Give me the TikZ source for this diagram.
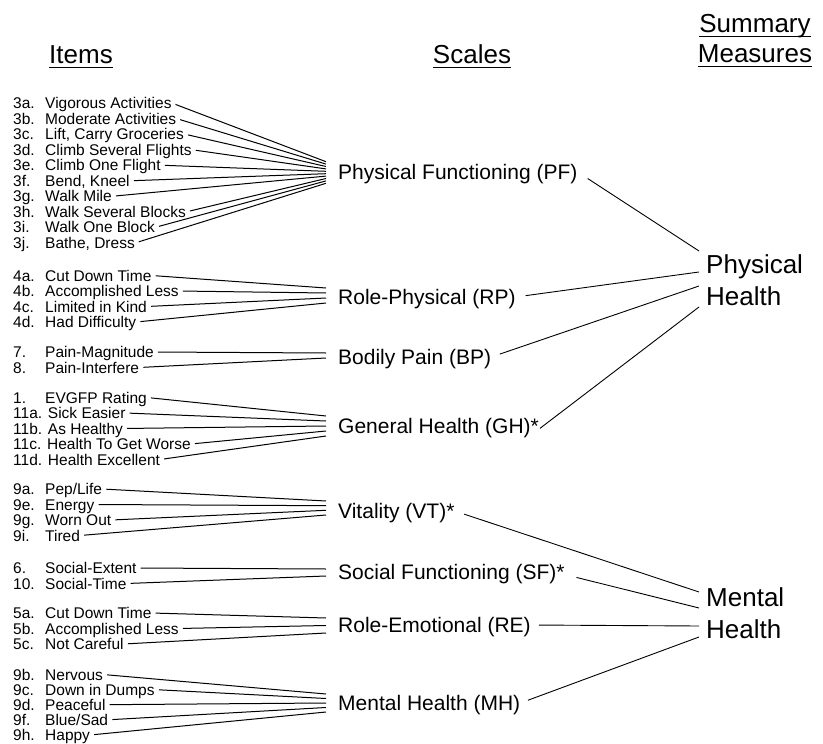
\documentclass[tikz,border=0pt]{standalone}
\usepackage{fontspec}
\setmainfont{Liberation Sans}
\usetikzlibrary{calc}

\tikzset{
  itemtxt/.style={font=\fontsize{15.5}{15.5}\selectfont, inner sep=0pt,
    anchor=base west, text height=11pt, text depth=0pt},
  scaletxt/.style={font=\fontsize{21}{21}\selectfont, inner sep=0pt,
    anchor=base west, text height=15pt, text depth=0pt},
  sumtxt/.style={font=\fontsize{26}{26}\selectfont, inner sep=0pt, anchor=base west},
  headtxt/.style={font=\fontsize{26}{26}\selectfont, inner sep=0pt, anchor=base},
  itemlink/.style={line width=1pt, shorten <=4pt},
  scalelink/.style={line width=0.9pt},
  uline/.style={line width=1.2pt}
}

% one questionnaire item: name, cap-centre y, number, wording, fan y
\newcommand\itm[5]{%
  \node[itemtxt] (#1n) at (13,#2+5.5) {#3};
  \node[itemtxt] (#1) at (45,#2+5.5) {#4};
  \coordinate (#1f) at (326,#5);
  \draw[itemlink] (#1.east) -- (#1f);
}
% item whose number and wording are set as one string
\newcommand\itmw[4]{%
  \node[itemtxt] (#1) at (13,#2+5.5) {#3};
  \coordinate (#1f) at (326,#4);
  \draw[itemlink] (#1.east) -- (#1f);
}
% underlined column heading: name, x, baseline y, text
\newcommand\heading[4]{%
  \node[headtxt] (#1) at (#2,#3) {#4};
  \draw[uline] ($(#1.base west)+(0,4.5)$) -- ($(#1.base east)+(0,4.5)$);
}

\begin{document}
\begin{tikzpicture}[x=1pt,y=-1pt]
\useasboundingbox (0,0) rectangle (823,744);

% column headings
\heading{hitems}{81}{63}{Items}
\heading{hscales}{472}{63}{Scales}
\heading{hsum1}{755}{32}{Summary}
\heading{hsum2}{755}{62}{Measures}

% Physical Functioning items
\itm{i3a}{103}{3a.}{Vigorous Activities}{161.7}
\itm{i3b}{118.5}{3b.}{Moderate Activities}{164.1}
\itm{i3c}{134}{3c.}{Lift, Carry Groceries}{166.5}
\itm{i3d}{149.7}{3d.}{Climb Several Flights}{168.9}
\itm{i3e}{165.2}{3e.}{Climb One Flight}{171.3}
\itm{i3f}{180.8}{3f.}{Bend, Kneel}{173.7}
\itm{i3g}{196.3}{3g.}{Walk Mile}{176.1}
\itm{i3h}{211.9}{3h.}{Walk Several Blocks}{178.5}
\itm{i3i}{227.4}{3i.}{Walk One Block}{180.9}
\itm{i3j}{243}{3j.}{Bathe, Dress}{183.3}

% Role-Physical items
\itm{i4a}{275.5}{4a.}{Cut Down Time}{288}
\itm{i4b}{291}{4b.}{Accomplished Less}{293}
\itm{i4c}{306.5}{4c.}{Limited in Kind}{298}
\itm{i4d}{322}{4d.}{Had Difficulty}{303}

% Bodily Pain items
\itm{i7}{352}{7.}{Pain-Magnitude}{353}
\itm{i8}{367.5}{8.}{Pain-Interfere}{358}

% General Health items
\itm{i1}{397.5}{1.}{EVGFP Rating}{416}
\itmw{i11a}{413}{11a. Sick Easier}{421}
\itmw{i11b}{428.5}{11b. As Healthy}{426}
\itmw{i11c}{444}{11c. Health To Get Worse}{431}
\itmw{i11d}{459.5}{11d. Health Excellent}{436}

% Vitality items
\itm{i9a}{489}{9a.}{Pep/Life}{501}
\itm{i9e}{504.5}{9e.}{Energy}{505.7}
\itm{i9g}{520}{9g.}{Worn Out}{510.3}
\itm{i9i}{535.5}{9i.}{Tired}{515}

% Social Functioning items
\itm{i6}{568}{6.}{Social-Extent}{569}
\itm{i10}{583.5}{10.}{Social-Time}{576}

% Role-Emotional items
\itm{i5a}{613}{5a.}{Cut Down Time}{618}
\itm{i5b}{628.5}{5b.}{Accomplished Less}{625.5}
\itm{i5c}{644}{5c.}{Not Careful}{633}

% Mental Health items
\itm{i9b}{674.5}{9b.}{Nervous}{694}
\itm{i9c}{689.6}{9c.}{Down in Dumps}{698.5}
\itm{i9d}{704.7}{9d.}{Peaceful}{703}
\itm{i9f}{719.8}{9f.}{Blue/Sad}{707.5}
\itm{i9h}{735}{9h.}{Happy}{712}

% scales
\node[scaletxt] (pf) at (338,179.5) {Physical Functioning (PF)};
\node[scaletxt] (rp) at (338,304.5) {Role-Physical (RP)};
\node[scaletxt] (bp) at (338,364.5) {Bodily Pain (BP)};
\node[scaletxt] (gh) at (338,433.5) {General Health (GH)*};
\node[scaletxt] (vt) at (338,518.5) {Vitality (VT)*};
\node[scaletxt] (sf) at (338,579) {Social Functioning (SF)*};
\node[scaletxt] (re) at (338,632.5) {Role-Emotional (RE)};
\node[scaletxt] (mh) at (338,710.5) {Mental Health (MH)};

% summary measures
\node[sumtxt] (ph1) at (706,273) {Physical};
\node[sumtxt] (ph2) at (706,305) {Health};
\node[sumtxt] (mh1) at (706,606) {Mental};
\node[sumtxt] (mh2) at (706,638) {Health};

% where the scale links meet the summary measures
\coordinate (phA) at (699,251);
\coordinate (phB) at (699,272);
\coordinate (phC) at (699,286);
\coordinate (phD) at (699,307);
\coordinate (mhA) at (699,592);
\coordinate (mhB) at (699,608);
\coordinate (mhC) at (699,626);
\coordinate (mhD) at (699,637);

\draw[scalelink, shorten <=12pt] (pf.east) -- (phA);
\draw[scalelink, shorten <=10pt] (rp.east) -- (phB);
\draw[scalelink, shorten <=9pt]  (bp.east) -- (phC);
\draw[scalelink, shorten <=1pt]  ($(gh.east)+(0,3)$) -- (phD);
\draw[scalelink, shorten <=10pt] (vt.east) -- (mhA);
\draw[scalelink, shorten <=12pt] ($(sf.east)+(0,3)$) -- (mhB);
\draw[scalelink, shorten <=8pt]  (re.east) -- (mhC);
\draw[scalelink, shorten <=8pt]  (mh.east) -- (mhD);
\end{tikzpicture}
\end{document}
